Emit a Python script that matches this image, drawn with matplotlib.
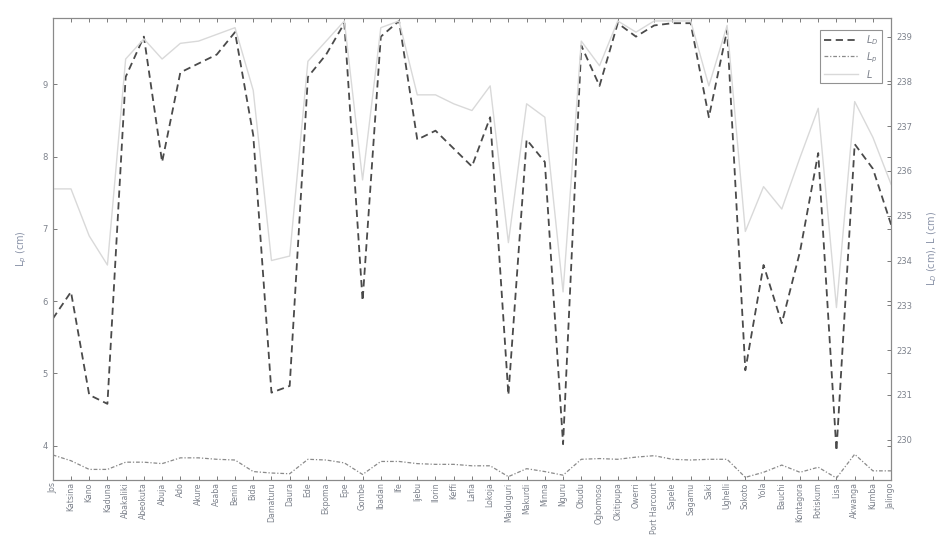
import matplotlib
matplotlib.use("Agg")
import matplotlib.pyplot as plt

# station names along the x axis
cities = ["Jos", "Katsina", "Kano", "Kaduna", "Abakaliki", "Abeokuta", "Abuja", "Ado",
          "Akure", "Asaba", "Benin", "Bida", "Damaturu", "Daura", "Ede", "Ekpoma", "Epe",
          "Gombe", "Ibadan", "Ife", "Ijebu", "Ilorin", "Keffi", "Lafia", "Lokoja",
          "Maiduguri", "Makurdi", "Minna", "Nguru", "Obudu", "Ogbomoso", "Okitipupa",
          "Owerri", "Port Harcourt", "Sapele", "Sagamu", "Saki", "Ughelli", "Sokoto",
          "Yola", "Bauchi", "Kontagora", "Potiskum", "Lisa", "Akwanga", "Kumba", "Jalingo"]

# L_D (cm), right axis
L_D = [232.7, 233.3, 231.0, 230.8, 238.1, 239.0, 236.2, 238.2, 238.4, 238.6, 239.1, 236.8,
       231.05, 231.2, 238.1, 238.6, 239.3, 233.1, 239.0, 239.35, 236.7, 236.9, 236.5, 236.1,
       237.2, 231.0, 236.7, 236.2, 229.9, 238.8, 237.9, 239.3, 239.0, 239.25, 239.3, 239.3,
       237.2, 239.15, 231.55, 233.9, 232.6, 234.2, 236.4, 229.75, 236.6, 236.05, 234.8]

# L (cm), right axis
L = [235.6, 235.6, 234.55, 233.9, 238.5, 238.95, 238.5, 238.85, 238.9, 239.05, 239.2, 237.8,
     234.0, 234.1, 238.45, 238.9, 239.35, 235.8, 239.2, 239.35, 237.7, 237.7, 237.5, 237.35,
     237.9, 234.4, 237.5, 237.2, 233.3, 238.9, 238.35, 239.35, 239.1, 239.35, 239.35, 239.35,
     237.9, 239.25, 234.65, 235.65, 235.15, 236.3, 237.4, 232.95, 237.55, 236.75, 235.7]

# L_p (cm), left axis
L_p = [3.87, 3.79, 3.67, 3.67, 3.77, 3.77, 3.75, 3.83, 3.83, 3.81, 3.80, 3.64, 3.62, 3.61,
       3.81, 3.80, 3.76, 3.60, 3.78, 3.78, 3.75, 3.74, 3.74, 3.72, 3.72, 3.57, 3.68, 3.64,
       3.59, 3.81, 3.82, 3.81, 3.84, 3.86, 3.81, 3.80, 3.81, 3.81, 3.56, 3.63, 3.73, 3.63,
       3.70, 3.55, 3.88, 3.65, 3.65]

x = list(range(1, len(cities) + 1))
grey = "#7d828c"

fig = plt.figure(figsize=(9.42, 5.40), dpi=100)
ax1 = fig.add_axes([0.056, 0.112, 0.89, 0.855])
ax2 = ax1.twinx()

lp_line, = ax1.plot(x, L_p, color="#8a8a8a", lw=0.9, dashes=(3, 1.5, 1, 1.5), label="$L_p$")
ld_line, = ax2.plot(x, L_D, color="#4a4a4a", lw=1.3, dashes=(4, 2.5), label="$L_D$")
l_line, = ax2.plot(x, L, color="#d9d9d9", lw=1.0, label="$L$")
ax2.set_zorder(ax1.get_zorder() + 1)
ax2.patch.set_visible(False)

ax1.set_xlim(1, len(cities))
ax1.set_ylim(3.53, 9.92)
ax2.set_ylim(229.11, 239.42)

ax1.set_xticks(x)
ax1.set_xticklabels(cities, rotation=90, fontsize=5.6, color=grey)
ax1.set_yticks([4, 5, 6, 7, 8, 9])
ax2.set_yticks(range(230, 240))

ax1.tick_params(direction="in", length=3, width=0.6, top=True, right=True, labelsize=6,
                labelcolor=grey, color="#666666")
ax1.tick_params(axis="x", labelsize=5.6, pad=2)
ax2.tick_params(direction="in", length=3, width=0.6, labelsize=6, labelcolor=grey,
                color="#666666")

for ax in (ax1, ax2):
    for s in ax.spines.values():
        s.set_color("#8a8a8a")
        s.set_linewidth(0.8)

ax1.set_ylabel("L$_p$ (cm)", fontsize=7, color="#8a93a8", labelpad=10)
ax2.set_ylabel("L$_D$ (cm), L (cm)", fontsize=7, color="#8a93a8", rotation=90, labelpad=10)

leg = ax2.legend(handles=[ld_line, lp_line, l_line], loc="upper right", fontsize=7,
                 frameon=True, fancybox=False, edgecolor="#777777", handlelength=3.5,
                 borderpad=0.4, labelspacing=0.3, bbox_to_anchor=(0.995, 0.985))
leg.get_frame().set_linewidth(0.8)
for t in leg.get_texts():
    t.set_color(grey)

fig.savefig("out.png", dpi=100, facecolor="white")
